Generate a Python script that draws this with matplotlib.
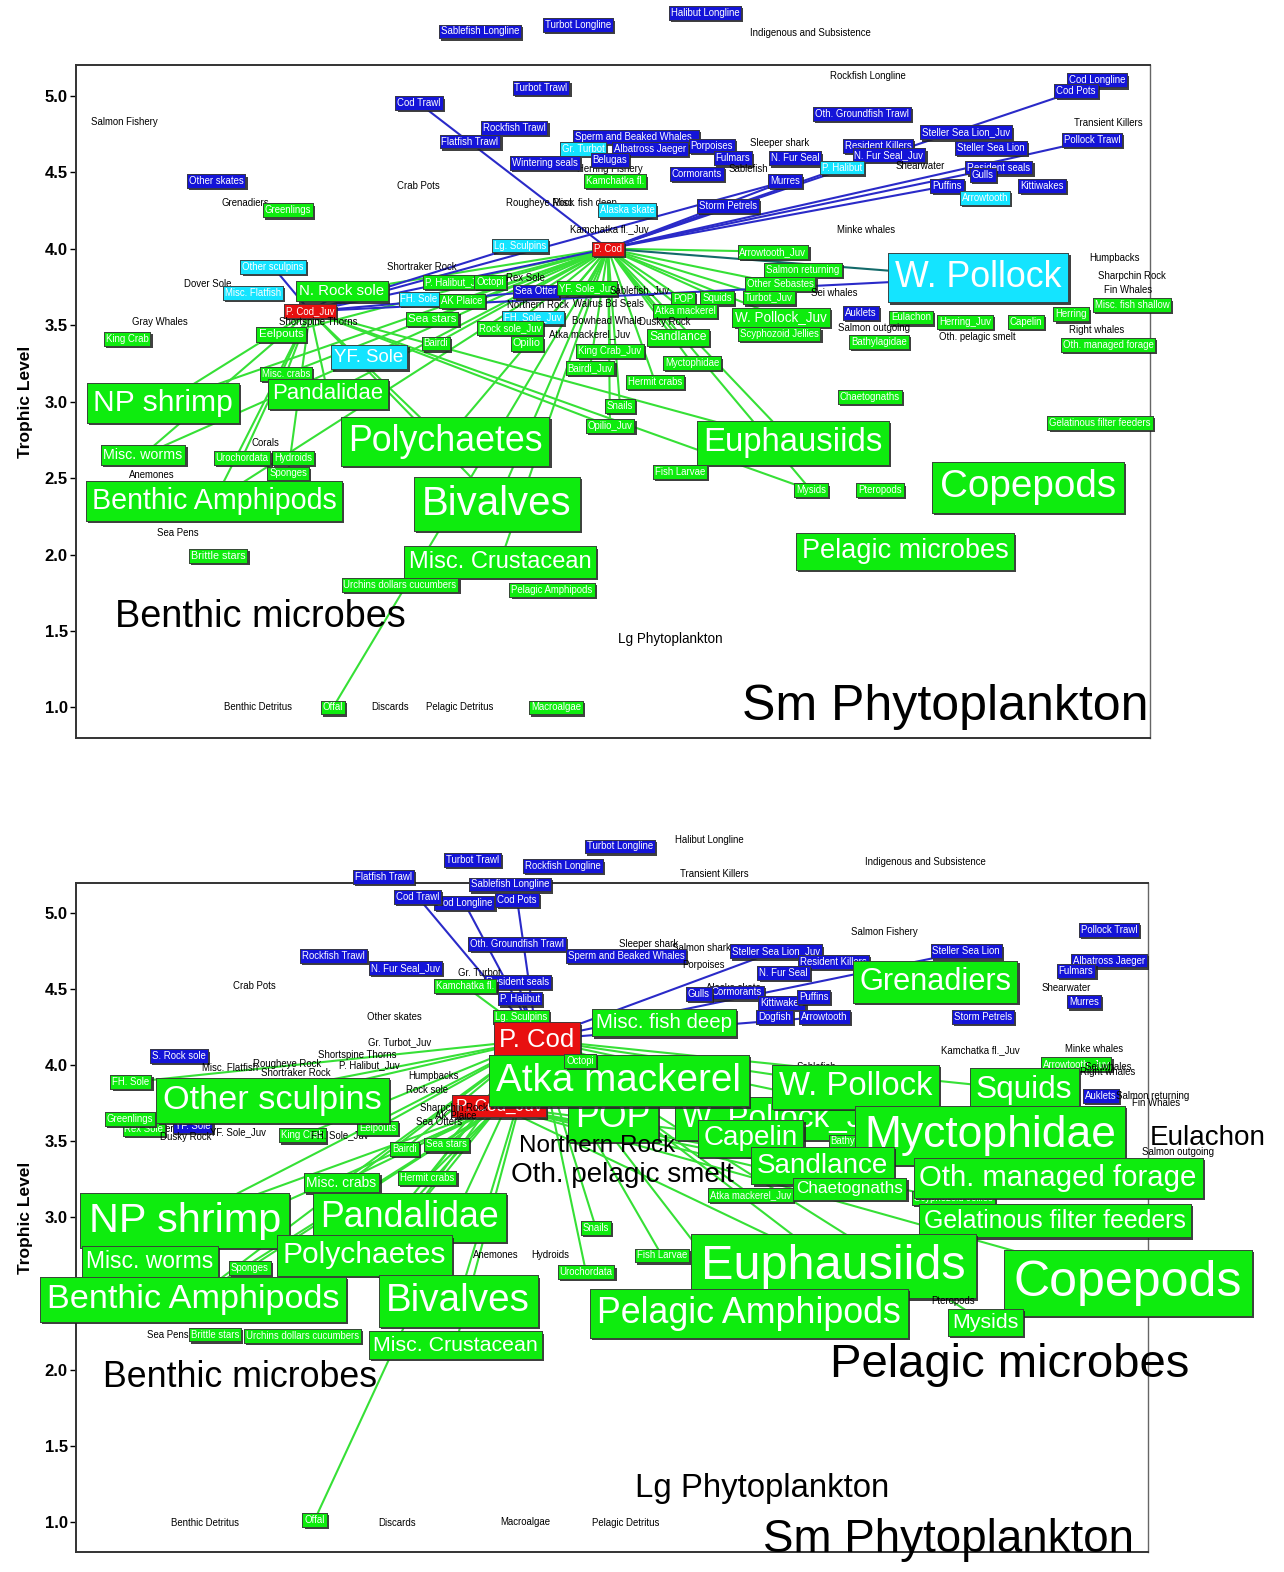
import numpy as np
import matplotlib
matplotlib.use("Agg")
import matplotlib.pyplot as plt
import matplotlib.patheffects as pe

plt.rcParams['font.family'] = ['Liberation Sans', 'DejaVu Sans']

# ---------------- top web ----------------
top_names = [
    "Sablefish Longline", "Turbot Longline", "Halibut Longline", "Indigenous and Subsistence", "Rockfish Longline", "Turbot Trawl", "Cod Trawl", "Salmon Fishery",
    "Cod Longline", "Cod Pots", "Pollock Trawl",
    "Oth. Groundfish Trawl", "Transient Killers", "Rockfish Trawl", "Steller Sea Lion_Juv", "Sperm and Beaked Whales_", "Flatfish Trawl", "Porpoises", "Sleeper shark",
    "Resident Killers", "Albatross Jaeger", "Gr. Turbot", "Steller Sea Lion", "N. Fur Seal", "N. Fur Seal_Juv", "Herring Fishery", "Belugas",
    "Wintering seals", "Fulmars", "Sablefish", "Shearwater", "P. Halibut", "Resident seals", "Gulls", "Cormorants",
    "Other skates", "Crab Pots", "Kamchatka fl.", "Murres", "Puffins", "Kittiwakes", "Arrowtooth", "Grenadiers",
    "Greenlings", "Rougheye Rock", "Misc. fish deep", "Alaska skate", "Storm Petrels", "Kamchatka fl._Juv", "Minke whales", "Lg. Sculpins",
    "Arrowtooth_Juv", "Humpbacks", "Other sculpins", "Shortraker Rock", "Salmon returning", "W. Pollock", "Sharpchin Rock", "Dover Sole",
    "P. Halibut_Juv", "Octopi", "Rex Sole", "Other Sebastes", "Fin Whales", "Misc. Flatfish", "N. Rock sole", "Sea Otter",
    "YF. Sole_Juv", "Sablefish_Juv", "FH. Sole", "AK Plaice", "POP", "Squids", "Turbot_Juv", "Sei whales",
    "Misc. fish shallow", "Northern Rock", "Walrus Bd Seals", "P. Cod_Juv", "Atka mackerel", "W. Pollock_Juv", "Auklets", "Eulachon",
    "Herring_Juv", "Capelin", "Herring", "FH. Sole_Juv", "Sea stars", "Shortspine Thorns", "Gray Whales", "Bowhead Whale",
    "Dusky Rock", "Rock sole_Juv", "Salmon outgoing", "Right whales", "Atka mackerel_Juv", "Sandlance", "Scyphozoid Jellies", "Eelpouts",
    "King Crab", "Oth. pelagic smelt", "Bathylagidae", "Oth. managed forage", "Bairdi", "Opilio", "King Crab_Juv", "YF. Sole",
    "Myctophidae", "Bairdi_Juv", "Misc. crabs", "Hermit crabs", "Pandalidae", "NP shrimp", "Chaetognaths", "Snails",
    "Opilio_Juv", "Gelatinous filter feeders", "Polychaetes", "Euphausiids", "Corals", "Misc. worms", "Hydroids", "Urochordata",
    "Fish Larvae", "Anemones", "Sponges", "Copepods", "Mysids", "Pteropods", "Benthic Amphipods", "Bivalves",
    "Sea Pens", "Brittle stars", "Pelagic microbes", "Misc. Crustacean", "Urchins dollars cucumbers", "Pelagic Amphipods", "Benthic microbes", "Lg Phytoplankton",
    "Benthic Detritus", "Offal", "Discards", "Pelagic Detritus", "Macroalgae", "Sm Phytoplankton", "P. Cod",
]
# horizontal layout position of each label (no axis, chart coordinates)
top_x = [
    480, 578, 705, 810, 868, 541, 419, 124,
    1097, 1076, 1092,
    862, 1108, 514, 966, 636, 470, 712, 780,
    878, 650, 583, 991, 795, 889, 610, 610,
    545, 733, 748, 920, 842, 999, 983, 697,
    216, 418, 615, 785, 947, 1042, 985, 245,
    288, 540, 585, 627, 728, 609, 866, 520,
    773, 1115, 273, 422, 803, 978, 1132, 208,
    455, 490, 525, 780, 1128, 253, 342, 536,
    587, 640, 419, 462, 683, 717, 769, 834,
    1132, 538, 608, 310, 685, 781, 861, 911,
    965, 1026, 1071, 533, 432, 318, 160, 607,
    665, 510, 874, 1097, 590, 678, 779, 281,
    127, 977, 879, 1108, 436, 527, 610, 369,
    692, 590, 286, 655, 328, 163, 870, 620,
    610, 1100, 445, 793, 265, 143, 293, 242,
    680, 152, 288, 1028, 811, 880, 214, 497,
    178, 218, 905, 500, 400, 552, 260, 670,
    258, 333, 390, 460, 556, 945, 608,
]
top_tl = [
    5.42, 5.46, 5.54, 5.41, 5.13, 5.05, 4.95, 4.83,
    5.10, 5.03, 4.71,
    4.88, 4.82, 4.79, 4.76, 4.73, 4.70, 4.67, 4.69,
    4.67, 4.65, 4.65, 4.66, 4.59, 4.61, 4.52, 4.58,
    4.56, 4.59, 4.52, 4.54, 4.53, 4.53, 4.48, 4.49,
    4.44, 4.41, 4.44, 4.44, 4.41, 4.41, 4.33, 4.30,
    4.25, 4.30, 4.30, 4.25, 4.28, 4.13, 4.12, 4.02,
    3.98, 3.94, 3.88, 3.88, 3.86, 3.81, 3.82, 3.77,
    3.78, 3.78, 3.81, 3.77, 3.73, 3.71, 3.72, 3.72,
    3.74, 3.73, 3.67, 3.66, 3.67, 3.68, 3.68, 3.71,
    3.63, 3.63, 3.64, 3.59, 3.59, 3.55, 3.58, 3.55,
    3.52, 3.52, 3.57, 3.55, 3.54, 3.52, 3.52, 3.53,
    3.52, 3.48, 3.48, 3.47, 3.44, 3.42, 3.44, 3.44,
    3.41, 3.42, 3.39, 3.37, 3.38, 3.38, 3.33, 3.29,
    3.25, 3.22, 3.18, 3.13, 3.05, 2.99, 3.03, 2.97,
    2.84, 2.86, 2.74, 2.73, 2.73, 2.65, 2.63, 2.63,
    2.54, 2.52, 2.53, 2.44, 2.42, 2.42, 2.35, 2.33,
    2.14, 1.99, 2.02, 1.95, 1.80, 1.77, 1.59, 1.45,
    1.00, 1.00, 1.00, 1.00, 1.00, 1.00, 4.00,
]
top_pred = ["Sablefish Longline", "Turbot Longline", "Halibut Longline", "Turbot Trawl", "Cod Trawl",
            "Cod Longline", "Cod Pots", "Pollock Trawl", "Oth. Groundfish Trawl", "Rockfish Trawl",
            "Steller Sea Lion_Juv", "Sperm and Beaked Whales_", "Flatfish Trawl", "Porpoises", "Resident Killers",
            "Albatross Jaeger", "Steller Sea Lion", "N. Fur Seal", "N. Fur Seal_Juv", "Belugas", "Wintering seals",
            "Fulmars", "Resident seals", "Gulls", "Cormorants", "Other skates", "Murres", "Puffins", "Kittiwakes",
            "Storm Petrels", "Sea Otter", "Auklets"]
top_comp = ["Gr. Turbot", "P. Halibut", "Arrowtooth", "Alaska skate", "Lg. Sculpins", "Other sculpins",
            "W. Pollock", "Misc. Flatfish", "FH. Sole", "FH. Sole_Juv", "YF. Sole"]
top_focus = ["P. Cod", "P. Cod_Juv"]
top_other = ["Indigenous and Subsistence", "Rockfish Longline", "Salmon Fishery", "Transient Killers",
             "Sleeper shark", "Herring Fishery", "Sablefish", "Shearwater", "Crab Pots", "Grenadiers",
             "Rougheye Rock", "Misc. fish deep", "Kamchatka fl._Juv", "Minke whales", "Humpbacks",
             "Shortraker Rock", "Sharpchin Rock", "Dover Sole", "Rex Sole", "Fin Whales", "Sablefish_Juv",
             "Sei whales", "Northern Rock", "Walrus Bd Seals", "Shortspine Thorns", "Gray Whales",
             "Bowhead Whale", "Dusky Rock", "Salmon outgoing", "Right whales", "Atka mackerel_Juv",
             "Oth. pelagic smelt", "Corals", "Anemones", "Sea Pens", "Benthic microbes", "Lg Phytoplankton",
             "Benthic Detritus", "Discards", "Pelagic Detritus", "Sm Phytoplankton"]
# relative biomass index (label area), 1 = smallest
top_biomass = {"W. Pollock": 13.9, "N. Rock sole": 2.46, "W. Pollock_Juv": 2.0, "Sea stars": 1.43,
               "Sandlance": 1.61, "Eelpouts": 1.43, "Opilio": 1.25, "YF. Sole": 3.76, "Pandalidae": 5.35,
               "NP shrimp": 9.82, "Polychaetes": 13.9, "Euphausiids": 11.8, "Misc. worms": 2.23,
               "Copepods": 16.2, "Benthic Amphipods": 8.91, "Bivalves": 17.5, "Brittle stars": 1.25,
               "Pelagic microbes": 8.04, "Misc. Crustacean": 6.06, "Benthic microbes": 15.6,
               "Lg Phytoplankton": 2.0, "Sm Phytoplankton": 27.3}
top_cod_prey = ["Octopi", "P. Halibut_Juv", "AK Plaice", "Sea stars", "Rock sole_Juv", "Bairdi", "Opilio",
                "YF. Sole_Juv", "King Crab_Juv", "Bairdi_Juv", "Hermit crabs", "Snails", "Opilio_Juv",
                "Myctophidae", "Sandlance", "Atka mackerel", "POP", "Squids", "Turbot_Juv", "Arrowtooth_Juv",
                "Other Sebastes", "W. Pollock_Juv", "Euphausiids", "Mysids", "NP shrimp", "Pandalidae",
                "Polychaetes", "Misc. crabs", "Eelpouts", "Bivalves", "Misc. Crustacean", "Offal",
                "Benthic Amphipods", "N. Rock sole", "Misc. worms"]
top_juv_prey = ["NP shrimp", "Pandalidae", "Misc. crabs", "Polychaetes", "Euphausiids", "Mysids",
                "Misc. worms", "Urochordata", "Sponges", "Benthic Amphipods", "Bivalves", "Opilio_Juv"]
top_cod_pred = ["Cod Trawl", "Cod Pots", "Pollock Trawl", "Resident seals", "Puffins", "P. Halibut",
                "Murres", "Storm Petrels"]
top_juv_pred = ["Other sculpins", "Lg. Sculpins", "P. Cod", "Sea Otter", "W. Pollock", "N. Rock sole", "Murres"]
top_cod_both = ["W. Pollock"]

# ---------------- bottom web ----------------
bot_names = [
    "Halibut Longline", "Turbot Longline", "Turbot Trawl", "Rockfish Longline", "Indigenous and Subsistence", "Transient Killers", "Flatfish Trawl", "Sablefish Longline",
    "Cod Longline", "Cod Trawl", "Cod Pots", "Salmon Fishery", "Pollock Trawl", "Oth. Groundfish Trawl", "Sleeper shark", "Salmon shark",
    "Steller Sea Lion_Juv", "Steller Sea Lion", "Sperm and Beaked Whales", "Rockfish Trawl", "Albatross Jaeger", "Porpoises", "Resident Killers", "N. Fur Seal_Juv",
    "Gr. Turbot", "Fulmars", "N. Fur Seal", "Resident seals", "Kamchatka fl.", "Crab Pots", "Alaska skate", "Shearwater",
    "Cormorants", "Gulls", "Kittiwakes", "Puffins", "P. Halibut", "Murres", "Grenadiers", "Other skates",
    "Lg. Sculpins", "Dogfish", "Arrowtooth", "Storm Petrels", "Misc. fish deep", "P. Cod", "Gr. Turbot_Juv", "Kamchatka fl._Juv",
    "Minke whales", "Shortspine Thorns", "S. Rock sole", "Rougheye Rock", "P. Halibut_Juv", "Misc. Flatfish", "Shortraker Rock", "Sablefish",
    "Arrowtooth_Juv", "Sei whales", "Right whales", "P. Cod_Juv", "Humpbacks", "Rock sole", "Sharpchin Rock", "AK Plaice",
    "W. Pollock_Juv", "POP", "Atka mackerel", "Octopi", "W. Pollock", "Squids", "FH. Sole", "Auklets",
    "Salmon returning", "Fin Whales", "Dover Sole", "Rex Sole", "Greenlings", "YF. Sole", "Dusky Rock", "YF. Sole_Juv",
    "King Crab", "FH. Sole_Juv", "Eelpouts", "Sea Otters", "Other sculpins", "Bathylagidae", "Capelin", "Salmon outgoing",
    "Myctophidae", "Eulachon", "Northern Rock", "Bairdi", "Sea stars", "Scyphozoid Jellies", "Atka mackerel_Juv", "Sandlance",
    "Oth. pelagic smelt", "Oth. managed forage", "Chaetognaths", "Misc. crabs", "Hermit crabs", "Gelatinous filter feeders", "Snails", "Pandalidae",
    "NP shrimp", "Anemones", "Hydroids", "Fish Larvae", "Urochordata", "Corals", "Sponges", "Misc. worms",
    "Polychaetes", "Euphausiids", "Pteropods", "Copepods", "Benthic Amphipods", "Bivalves", "Pelagic Amphipods", "Mysids",
    "Sea Pens", "Brittle stars", "Urchins dollars cucumbers", "Misc. Crustacean", "Pelagic microbes", "Benthic microbes", "Lg Phytoplankton", "Benthic Detritus",
    "Offal", "Discards", "Macroalgae", "Pelagic Detritus", "Sm Phytoplankton",
]
bot_x = [
    711, 621, 473, 564, 927, 716, 384, 511,
    465, 418, 518, 886, 1111, 518, 650, 703,
    777, 968, 627, 334, 1111, 705, 835, 406,
    480, 1078, 785, 518, 466, 255, 735, 1068,
    738, 700, 783, 815, 521, 1086, 937, 395,
    522, 776, 826, 985, 665, 538, 400, 982,
    1096, 358, 179, 288, 370, 230, 296, 818,
    1078, 1110, 1110, 500, 434, 428, 455, 456,
    790, 614, 620, 581, 857, 1026, 131, 1103,
    1155, 1158, 172, 144, 130, 193, 186, 238,
    303, 340, 378, 440, 273, 860, 752, 1180,
    992, 1210, 598, 405, 447, 955, 752, 824,
    623, 1060, 851, 342, 428, 1057, 597, 410,
    185, 497, 551, 663, 587, 390, 250, 150,
    365, 835, 955, 1130, 193, 459, 750, 987,
    168, 215, 303, 456, 1012, 240, 763, 205,
    315, 398, 526, 627, 950,
]
bot_tl = [
    5.48, 5.44, 5.35, 5.31, 5.34, 5.26, 5.24, 5.19,
    5.07, 5.11, 5.09, 4.88, 4.89, 4.80, 4.80, 4.77,
    4.75, 4.75, 4.72, 4.72, 4.69, 4.66, 4.68, 4.64,
    4.61, 4.62, 4.61, 4.55, 4.52, 4.52, 4.51, 4.51,
    4.48, 4.47, 4.41, 4.45, 4.44, 4.42, 4.55, 4.32,
    4.32, 4.32, 4.32, 4.32, 4.28, 4.17, 4.15, 4.10,
    4.11, 4.07, 4.06, 4.01, 4.00, 3.98, 3.95, 3.99,
    4.01, 3.99, 3.96, 3.73, 3.93, 3.84, 3.72, 3.67,
    3.65, 3.66, 3.90, 4.03, 3.86, 3.84, 3.89, 3.80,
    3.80, 3.75, 3.58, 3.58, 3.65, 3.60, 3.53, 3.56,
    3.54, 3.54, 3.59, 3.63, 3.77, 3.50, 3.52, 3.43,
    3.54, 3.52, 3.47, 3.45, 3.48, 3.13, 3.15, 3.34,
    3.28, 3.26, 3.19, 3.23, 3.26, 2.98, 2.93, 3.00,
    2.98, 2.75, 2.75, 2.75, 2.64, 2.62, 2.67, 2.71,
    2.75, 2.68, 2.45, 2.57, 2.46, 2.45, 2.37, 2.31,
    2.23, 2.23, 2.22, 2.16, 2.03, 1.95, 1.22, 0.99,
    1.01, 0.99, 1.00, 0.99, 0.88,
]
bot_pred = ["Turbot Longline", "Turbot Trawl", "Rockfish Longline", "Flatfish Trawl", "Sablefish Longline",
            "Cod Longline", "Cod Trawl", "Cod Pots", "Pollock Trawl", "Oth. Groundfish Trawl",
            "Steller Sea Lion_Juv", "Steller Sea Lion", "Sperm and Beaked Whales", "Rockfish Trawl",
            "Albatross Jaeger", "Resident Killers", "N. Fur Seal_Juv", "Fulmars", "N. Fur Seal",
            "Resident seals", "Cormorants", "Gulls", "Kittiwakes", "Puffins", "P. Halibut", "Murres",
            "Dogfish", "Arrowtooth", "Storm Petrels", "S. Rock sole", "Auklets", "YF. Sole"]
bot_comp = []
bot_focus = ["P. Cod", "P. Cod_Juv"]
bot_other = ["Halibut Longline", "Indigenous and Subsistence", "Transient Killers", "Salmon Fishery",
             "Sleeper shark", "Salmon shark", "Porpoises", "Gr. Turbot", "Crab Pots", "Alaska skate",
             "Shearwater", "Other skates", "Gr. Turbot_Juv", "Kamchatka fl._Juv", "Minke whales",
             "Shortspine Thorns", "Rougheye Rock", "P. Halibut_Juv", "Misc. Flatfish", "Shortraker Rock",
             "Sablefish", "Sei whales", "Right whales", "Humpbacks", "Rock sole", "Sharpchin Rock",
             "AK Plaice", "Salmon returning", "Fin Whales", "Dover Sole", "Dusky Rock", "YF. Sole_Juv",
             "FH. Sole_Juv", "Sea Otters", "Salmon outgoing", "Eulachon", "Northern Rock",
             "Oth. pelagic smelt", "Anemones", "Hydroids", "Corals", "Pteropods", "Sea Pens",
             "Pelagic microbes", "Benthic microbes", "Lg Phytoplankton", "Benthic Detritus", "Discards",
             "Macroalgae", "Pelagic Detritus", "Sm Phytoplankton"]
bot_biomass = {"Grenadiers": 10.3, "Misc. fish deep": 4.55, "P. Cod": 7.2, "P. Cod_Juv": 3.2,
               "W. Pollock_Juv": 10.8, "POP": 13.9, "Atka mackerel": 16.2, "W. Pollock": 11.8,
               "Squids": 10.8, "Other sculpins": 12.8, "Capelin": 8.47, "Myctophidae": 21.4,
               "Eulachon": 8.47, "Northern Rock": 6.44, "Sandlance": 8.47, "Oth. pelagic smelt": 8.47,
               "Oth. managed forage": 9.36, "Chaetognaths": 3.2, "Misc. crabs": 2.1,
               "Gelatinous filter feeders": 6.74, "Pandalidae": 13.9, "NP shrimp": 18.7, "Misc. worms": 5.7,
               "Polychaetes": 9.82, "Euphausiids": 25.8, "Copepods": 27.3, "Benthic Amphipods": 12.8,
               "Bivalves": 16.2, "Pelagic Amphipods": 13.9, "Mysids": 5.0, "Misc. Crustacean": 5.0,
               "Pelagic microbes": 24.3, "Benthic microbes": 13.9, "Lg Phytoplankton": 11.8,
               "Sm Phytoplankton": 22.8}
bot_cod_prey = ["Atka mackerel", "W. Pollock", "Squids", "Octopi", "POP", "Capelin", "Sandlance",
                "Myctophidae", "Chaetognaths", "Euphausiids", "Pelagic Amphipods", "Mysids", "Other sculpins",
                "FH. Sole", "Greenlings", "Eelpouts", "King Crab", "Bairdi", "Sea stars", "Hermit crabs",
                "Misc. crabs", "NP shrimp", "Pandalidae", "Polychaetes", "Snails", "Fish Larvae", "Urochordata",
                "Bivalves", "Benthic Amphipods", "Misc. Crustacean", "Offal", "Atka mackerel_Juv",
                "Kamchatka fl.", "Lg. Sculpins", "W. Pollock_Juv"]
bot_juv_prey = ["NP shrimp", "Misc. crabs", "Pandalidae", "Polychaetes", "Misc. worms", "Sponges",
                "Hermit crabs", "Bairdi", "Sea stars", "Benthic Amphipods", "Euphausiids", "Capelin",
                "Sandlance", "Chaetognaths", "Gelatinous filter feeders", "Copepods"]
bot_cod_pred = ["Cod Trawl", "Cod Longline", "Cod Pots", "Resident seals", "P. Halibut",
                "Steller Sea Lion_Juv", "Steller Sea Lion", "Arrowtooth"]
bot_juv_pred = []
bot_cod_both = []

FILL = {"pred": "#1414d8", "comp": "#14e4ff", "prey": "#0eec0e", "focus": "#e81010"}
GREEN_LINE = "#36e036"
BLUE_LINE = "#2a2ac8"
TEAL_LINE = "#136a6a"


def draw_web(ax, names, xs, tls, pred, comp, focus, other, biomass,
             cod_prey, juv_prey, cod_pred, juv_pred, cod_both):
    pos = {n: (x, t) for n, x, t in zip(names, xs, tls)}

    def link(a, b, col):
        ax.plot([pos[a][0], pos[b][0]], [pos[a][1], pos[b][1]], color=col, lw=1.5,
                zorder=1, solid_capstyle='round')

    for n in cod_prey:
        link("P. Cod", n, GREEN_LINE)
    for n in juv_prey:
        link("P. Cod_Juv", n, GREEN_LINE)
    for n in cod_pred:
        link("P. Cod", n, BLUE_LINE)
    for n in juv_pred:
        link("P. Cod_Juv", n, BLUE_LINE)
    for n in cod_both:
        link("P. Cod", n, TEAL_LINE)

    for i, (n, x, t) in enumerate(zip(names, xs, tls)):
        fs = 6.9 * np.sqrt(biomass.get(n, 1.0))
        z = 3 + i * 0.01
        if n in other:
            ax.text(x, t, n, fontsize=fs, color='black', ha='center', va='center',
                    zorder=z, clip_on=False)
            continue
        if n in pred:
            role = "pred"
        elif n in comp:
            role = "comp"
        elif n in focus:
            role = "focus"
        else:
            role = "prey"
        txt = ax.text(x, t, n, fontsize=fs, color='white', ha='center', va='center',
                      zorder=z, clip_on=False,
                      bbox=dict(boxstyle='square,pad=0.2', fc=FILL[role], ec='#3a3a3a', lw=0.6))
        txt.get_bbox_patch().set_path_effects(
            [pe.withSimplePatchShadow(offset=(1.6, -1.6), shadow_rgbFace='#202020', alpha=0.85), pe.Normal()])

    ax.set_xlim(76, 1150)
    ax.set_ylim(0.8, 5.2)
    ax.set_xticks([])
    ax.set_yticks(np.arange(1.0, 5.01, 0.5))
    ax.set_yticklabels(['%.1f' % v for v in np.arange(1.0, 5.01, 0.5)],
                       fontsize=12, fontweight='bold')
    ax.tick_params(axis='y', length=4, width=1.0, pad=2)
    ax.set_ylabel('Trophic Level', fontsize=12.5, fontweight='bold', labelpad=8)
    for side in ['left', 'bottom', 'top']:
        ax.spines[side].set_linewidth(1.4)
        ax.spines[side].set_color('#333333')
    ax.spines['right'].set_linewidth(1.0)
    ax.spines['right'].set_color('#666666')


fig = plt.figure(figsize=(12.84, 15.72), dpi=100)
ax1 = fig.add_axes([0.0592, 0.5305, 0.8364, 0.4281])
ax2 = fig.add_axes([0.0592, 0.01272, 0.8348, 0.4256])

draw_web(ax1, top_names, top_x, top_tl, top_pred, top_comp, top_focus, top_other, top_biomass,
         top_cod_prey, top_juv_prey, top_cod_pred, top_juv_pred, top_cod_both)
draw_web(ax2, bot_names, bot_x, bot_tl, bot_pred, bot_comp, bot_focus, bot_other, bot_biomass,
         bot_cod_prey, bot_juv_prey, bot_cod_pred, bot_juv_pred, bot_cod_both)

fig.savefig('out.png', dpi=100)
